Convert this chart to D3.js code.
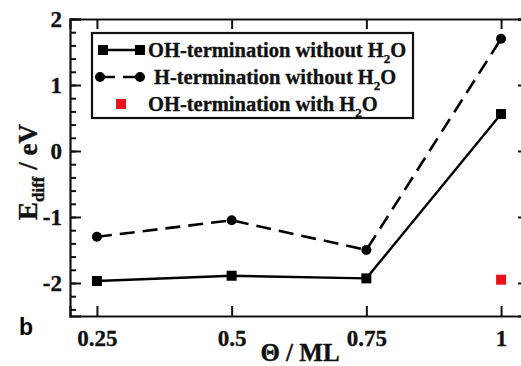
<!DOCTYPE html>
<html>
<head>
<meta charset="utf-8">
<script src="https://cdn.jsdelivr.net/npm/d3@7"></script>
<style>
  body { margin: 0; background: #fff; }
  svg { display: block; }
  .serif { font-family: "Liberation Serif", "Times New Roman", serif; font-weight: bold; stroke: #111; stroke-width: 0.35px; }
</style>
</head>
<body>
<div id="app"></div>
<script>
const WIDTH = 521;
const HEIGHT = 366;

// data
const coverage = [0.25, 0.5, 0.75, 1];
const ohNoWater = [-1.97, -1.89, -1.93, 0.56];
const hNoWater = [-1.30, -1.05, -1.50, 1.70];
const ohWithWater = [{ x: 1, y: -1.95 }];

const xTicks = [0.25, 0.5, 0.75, 1];
const xTickLabels = ["0.25", "0.5", "0.75", "1"];
const yTicks = [-2, -1, 0, 1, 2];
const yMinorTicks = d3.range(-2.4, 2.0001, 0.2).map((v) => +v.toFixed(1));

const legendLabels = [
  "OH-termination without H",
  "H-termination without H",
  "OH-termination with H",
];

const x = d3.scaleLinear().domain([0.2, 1.05]).range([70, 528]);
const y = d3.scaleLinear().domain([-2.5, 2]).range([316, 19]);

const svg = d3
  .select("#app")
  .append("svg")
  .attr("width", WIDTH)
  .attr("height", HEIGHT);

// frame axes
const gBottom = svg.append("g").attr("transform", `translate(0,${y(-2.5)})`)
  .call(d3.axisBottom(x).tickValues(xTicks).tickSize(-10).tickFormat((d, i) => xTickLabels[i]).tickPadding(14));
const gTop = svg.append("g").attr("transform", `translate(0,${y(2)})`)
  .call(d3.axisTop(x).tickValues(xTicks).tickSize(-10).tickFormat(""));
const gLeftMinor = svg.append("g").attr("transform", `translate(${x(0.2)},0)`)
  .call(d3.axisLeft(y).tickValues(yMinorTicks).tickSize(-6).tickFormat(""));
const gLeft = svg.append("g").attr("transform", `translate(${x(0.2)},0)`)
  .call(d3.axisLeft(y).tickValues(yTicks).tickSize(-11).tickFormat(d3.format("d")).tickPadding(8));
const gRight = svg.append("g").attr("transform", `translate(${x(1.05)},0)`)
  .call(d3.axisRight(y).tickValues(yTicks).tickSize(-10).tickFormat(""));

[gBottom, gTop, gLeftMinor, gLeft, gRight].forEach((g) => {
  g.select(".domain").attr("stroke", "#111").attr("stroke-width", 2.2);
  g.selectAll(".tick line").attr("stroke", "#111").attr("stroke-width", 2);
});
gLeftMinor.select(".domain").remove();

gBottom.selectAll(".tick text")
  .attr("class", "serif")
  .attr("font-size", 23)
  .attr("fill", "#111");
gLeft.selectAll(".tick text")
  .attr("class", "serif")
  .attr("font-size", 23)
  .attr("fill", "#111")
  .attr("dy", "0.34em")
  .text((d) => (d < 0 ? "-" + Math.abs(d) : d));

// series
const line = d3.line().x((d) => x(d[0])).y((d) => y(d[1]));

svg.append("path")
  .datum(coverage.map((c, i) => [c, hNoWater[i]]))
  .attr("fill", "none")
  .attr("stroke", "#000")
  .attr("stroke-width", 2.6)
  .attr("stroke-dasharray", "15,8")
  .attr("d", line);

svg.append("path")
  .datum(coverage.map((c, i) => [c, ohNoWater[i]]))
  .attr("fill", "none")
  .attr("stroke", "#000")
  .attr("stroke-width", 2.4)
  .attr("d", line);

svg.append("g").selectAll("circle")
  .data(coverage.map((c, i) => [c, hNoWater[i]]))
  .join("circle")
  .attr("cx", (d) => x(d[0]))
  .attr("cy", (d) => y(d[1]))
  .attr("r", 5)
  .attr("fill", "#000");

svg.append("g").selectAll("rect")
  .data(coverage.map((c, i) => [c, ohNoWater[i]]))
  .join("rect")
  .attr("x", (d) => x(d[0]) - 5)
  .attr("y", (d) => y(d[1]) - 5)
  .attr("width", 10)
  .attr("height", 10)
  .attr("fill", "#000");

svg.append("g").selectAll("rect")
  .data(ohWithWater)
  .join("rect")
  .attr("x", (d) => x(d.x) - 5)
  .attr("y", (d) => y(d.y) - 5)
  .attr("width", 10)
  .attr("height", 10)
  .attr("fill", "#e8121a");

// legend
const legend = svg.append("g");
legend.append("rect")
  .attr("x", 92).attr("y", 33)
  .attr("width", 321).attr("height", 85)
  .attr("fill", "#fff")
  .attr("stroke", "#111")
  .attr("stroke-width", 2.2);

const rowY = [50, 77, 104];
const textX = [148, 154, 148];

legend.append("line")
  .attr("x1", 103).attr("x2", 140).attr("y1", rowY[0]).attr("y2", rowY[0])
  .attr("stroke", "#000").attr("stroke-width", 2.4);
[103, 140].forEach((cx) => {
  legend.append("rect").attr("x", cx - 5).attr("y", rowY[0] - 5)
    .attr("width", 10).attr("height", 10).attr("fill", "#000");
});

legend.append("line")
  .attr("x1", 100).attr("x2", 140).attr("y1", rowY[1]).attr("y2", rowY[1])
  .attr("stroke", "#000").attr("stroke-width", 2.6)
  .attr("stroke-dasharray", "15,8");
[100, 140].forEach((cx) => {
  legend.append("circle").attr("cx", cx).attr("cy", rowY[1]).attr("r", 5).attr("fill", "#000");
});

legend.append("rect").attr("x", 121 - 5).attr("y", rowY[2] - 5)
  .attr("width", 10).attr("height", 10).attr("fill", "#e8121a");

legendLabels.forEach((lab, i) => {
  const t = legend.append("text")
    .attr("class", "serif")
    .attr("x", textX[i])
    .attr("y", rowY[i] + 7)
    .attr("font-size", 20.5)
    .attr("fill", "#111");
  t.append("tspan").text(lab);
  t.append("tspan").attr("font-size", 13).attr("dy", 6).text("2");
  t.append("tspan").attr("dy", -6).text("O");
});

// axis titles
const yTitle = svg.append("text")
  .attr("class", "serif")
  .attr("transform", "translate(37,172) rotate(-90)")
  .attr("text-anchor", "middle")
  .attr("font-size", 27)
  .attr("fill", "#111");
yTitle.append("tspan").text("E");
yTitle.append("tspan").attr("font-size", 17).attr("dy", 7).text("diff");
yTitle.append("tspan").attr("dy", -7).text(" / eV");

svg.append("text")
  .attr("class", "serif")
  .attr("x", 300)
  .attr("y", 361)
  .attr("text-anchor", "middle")
  .attr("font-size", 25)
  .attr("fill", "#111")
  .text("Θ / ML");

svg.append("text")
  .attr("x", 19)
  .attr("y", 335)
  .attr("font-family", "Liberation Sans, Arial, sans-serif")
  .attr("font-weight", "bold")
  .attr("font-size", 23)
  .attr("fill", "#000")
  .text("b");
</script>
</body>
</html>
